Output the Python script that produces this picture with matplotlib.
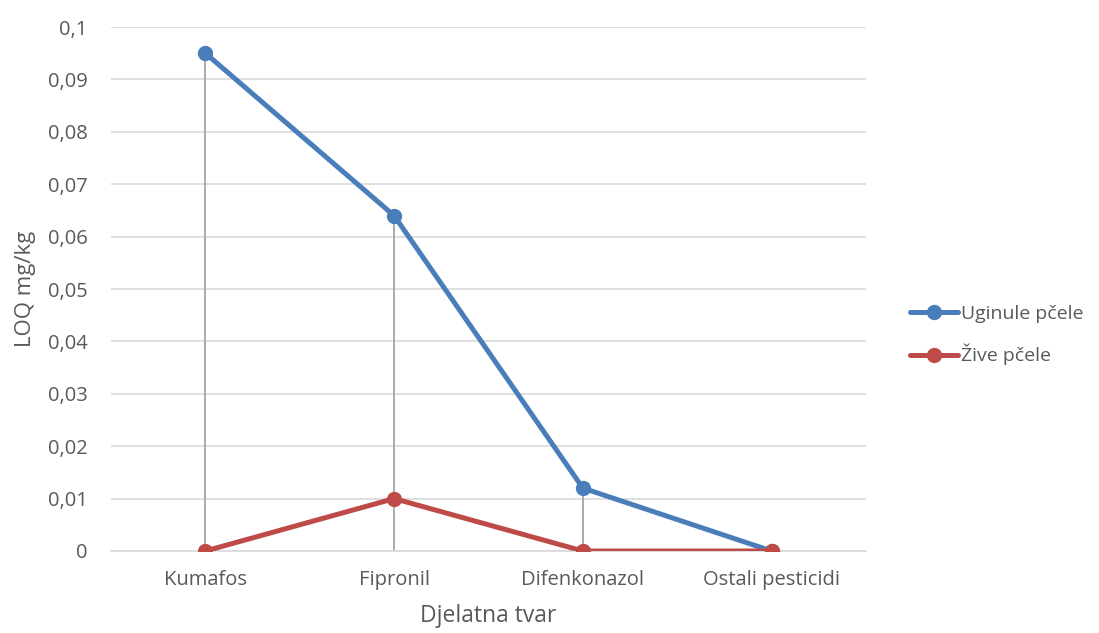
import matplotlib
matplotlib.use("Agg")
import matplotlib.pyplot as plt

categories = ["Kumafos", "Fipronil", "Difenkonazol", "Ostali pesticidi"]
uginule = [0.095, 0.064, 0.012, 0.0]
zive = [0.0, 0.01, 0.0, 0.0]
yticks = [0, 0.01, 0.02, 0.03, 0.04, 0.05, 0.06, 0.07, 0.08, 0.09, 0.1]
ytick_labels = ["0", "0,01", "0,02", "0,03", "0,04", "0,05", "0,06", "0,07", "0,08", "0,09", "0,1"]

plt.rcParams['font.family'] = ['Open Sans', 'DejaVu Sans']
text_color = "#595959"

fig = plt.figure(figsize=(10.99, 6.33), dpi=100)
ax = fig.add_axes([111/1099, 1-551/633, (866-111)/1099, (551-27)/633])

x = list(range(len(categories)))
for xi, a, b in zip(x, uginule, zive):
    top = max(a, b)
    if top > 0:
        ax.vlines(xi, 0, top, color="#A5A5A5", lw=1.3, zorder=2)

ax.plot(x, uginule, color="#4A7EBB", lw=3.6, marker="o", ms=10, label="Uginule pčele", zorder=4,
        solid_capstyle="round")
ax.plot(x, zive, color="#BE4B48", lw=3.6, marker="o", ms=10, label="Žive pčele", zorder=5,
        solid_capstyle="round")

ax.set_xlim(-0.5, len(categories) - 0.5)
ax.set_ylim(0, 0.1)
ax.set_yticks(yticks)
ax.set_yticklabels(ytick_labels)
ax.set_xticks(x)
ax.set_xticklabels(categories)
ax.grid(axis="y", color="#D9D9D9", lw=1.2, zorder=0)
ax.set_axisbelow(True)
for s in ["top", "right", "left"]:
    ax.spines[s].set_visible(False)
ax.spines["bottom"].set_color("#D9D9D9")
ax.spines["bottom"].set_linewidth(1.2)
ax.tick_params(axis="both", length=0, labelsize=14.5, colors=text_color)
ax.tick_params(axis="y", pad=17)
ax.tick_params(axis="x", pad=14)
ax.set_ylabel("LOQ mg/kg", fontsize=16, color=text_color, labelpad=8)
ax.set_xlabel("Djelatna tvar", fontsize=16.5, color=text_color, labelpad=10)

fig.legend(loc="center left", bbox_to_anchor=(892/1099, 1-335/633), frameon=False,
           fontsize=14, labelcolor=text_color, handlelength=2.5, handletextpad=0.15,
           labelspacing=1.1)

fig.savefig("out.png", dpi=100)
